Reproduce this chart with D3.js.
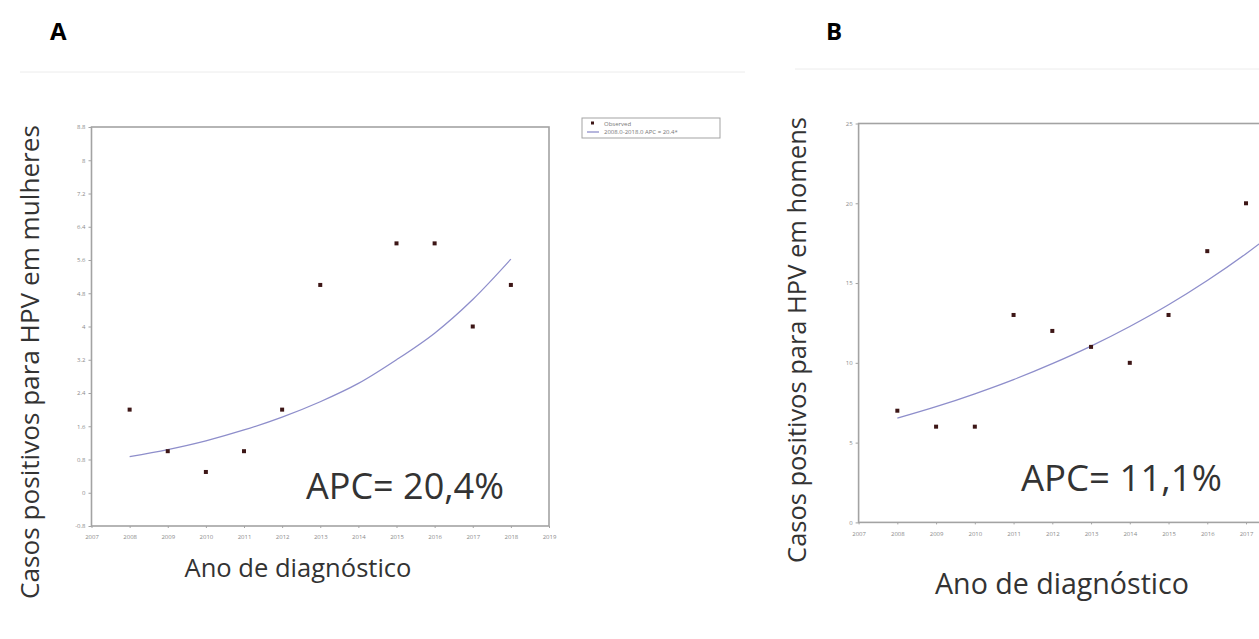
<!DOCTYPE html>
<html>
<head>
<meta charset="utf-8">
<script src="https://cdn.jsdelivr.net/npm/d3@7"></script>
<style>
  body { margin: 0; background: #fff; }
  svg { display: block; }
</style>
</head>
<body>
<div id="chart"></div>
<script>
// Panel A - mulheres
const yearsA = [2008, 2009, 2010, 2011, 2012, 2013, 2015, 2016, 2017, 2018];
const casesA = [2, 1, 0.5, 1, 2, 5, 6, 6, 4, 5];
const fitYearsA = [2008, 2009, 2010, 2011, 2012, 2013, 2014, 2015, 2016, 2017, 2018];
const fitA = [0.87, 1.04, 1.25, 1.51, 1.82, 2.19, 2.63, 3.2, 3.84, 4.65, 5.62];
const yTicksA = [-0.8, 0, 0.8, 1.6, 2.4, 3.2, 4, 4.8, 5.6, 6.4, 7.2, 8, 8.8];

// Panel B - homens
const yearsB = [2008, 2009, 2010, 2011, 2012, 2013, 2014, 2015, 2016, 2017];
const casesB = [7, 6, 6, 13, 12, 11, 10, 13, 17, 20];
const fitYearsB = [2008, 2009, 2010, 2011, 2012, 2013, 2014, 2015, 2016, 2017, 2018];
const fitB = [6.53, 7.25, 8.06, 8.95, 9.95, 11.05, 12.28, 13.64, 15.16, 16.84, 18.7];
const yTicksB = [0, 5, 10, 15, 20, 25];

const xTicks = [2007, 2008, 2009, 2010, 2011, 2012, 2013, 2014, 2015, 2016, 2017, 2018, 2019];

const W = 1259, H = 639;
const svg = d3.select("#chart")
    .append("svg")
    .attr("width", W)
    .attr("height", H);

const lineColor = "#8e8ecb";
const dotColor = "#3d1616";
const axisColor = "#a3a3a3";
const font = "'Open Sans', sans-serif";

// shrink/grow a text so it spans the wanted width
function fitText(sel, width) {
    const fs = +sel.attr("font-size");
    const w = sel.node().getComputedTextLength();
    sel.attr("font-size", fs * width / w);
    return sel;
}

function drawPanel(p) {
    const x = d3.scaleLinear().domain([2007, 2019]).range([p.left, p.right]);
    const y = d3.scaleLinear().domain(p.yDomain).range([p.bottom, p.top]);

    // faint scan line over the plot
    svg.append("line")
        .attr("x1", p.scanX[0]).attr("x2", p.scanX[1])
        .attr("y1", p.scanY).attr("y2", p.scanY)
        .attr("stroke", "#ececec").attr("stroke-width", 1);

    // plot box
    svg.append("rect")
        .attr("x", p.left).attr("y", p.top)
        .attr("width", p.right - p.left).attr("height", p.bottom - p.top)
        .attr("fill", "none").attr("stroke", axisColor).attr("stroke-width", 1.6);

    const yAxis = d3.axisLeft(y).tickValues(p.yTicks).tickSize(3).tickFormat(d => String(d));
    const gy = svg.append("g")
        .attr("transform", `translate(${p.left},0)`)
        .call(yAxis);
    const xAxis = d3.axisBottom(x)
        .tickValues(xTicks.filter(d => x(d) + 8 < W))
        .tickSize(2).tickFormat(d => String(d));
    const gx = svg.append("g")
        .attr("transform", `translate(0,${p.bottom})`)
        .call(xAxis);
    [gx, gy].forEach(g => {
        g.select(".domain").remove();
        g.selectAll(".tick line").attr("stroke", axisColor);
        g.selectAll(".tick text").attr("fill", "#8a8a8a").attr("font-size", 6).attr("font-family", font);
    });
    gx.selectAll(".tick text").attr("dy", "1.4em");

    // fitted curve
    const line = d3.line()
        .x((d, i) => x(p.fitYears[i]))
        .y(d => y(d))
        .curve(d3.curveCatmullRom);
    svg.append("path")
        .datum(p.fit)
        .attr("d", line)
        .attr("fill", "none")
        .attr("stroke", lineColor)
        .attr("stroke-width", 1.3);

    // observed points
    svg.append("g").selectAll("rect")
        .data(p.cases)
        .join("rect")
        .attr("x", (d, i) => x(p.years[i]) - 2)
        .attr("y", d => y(d) - 2)
        .attr("width", 4).attr("height", 4)
        .attr("fill", dotColor);

    // panel letter
    svg.append("text")
        .attr("x", p.letterX).attr("y", 40)
        .attr("font-family", font)
        .attr("font-weight", "bold")
        .attr("font-size", 24)
        .text(p.letter);

    // y label
    fitText(svg.append("text")
        .attr("transform", `translate(${p.yLabelX},${p.yLabelY}) rotate(-90)`)
        .attr("text-anchor", "middle")
        .attr("font-family", font)
        .attr("font-size", 22)
        .attr("fill", "#333")
        .text(p.yLabel), p.yLabelW);

    // x label
    fitText(svg.append("text")
        .attr("x", p.xLabelX).attr("y", p.xLabelY)
        .attr("text-anchor", "middle")
        .attr("font-family", font)
        .attr("font-size", 22)
        .attr("fill", "#333")
        .text("Ano de diagnóstico"), p.xLabelW);

    // APC annotation
    fitText(svg.append("text")
        .attr("x", p.apcX).attr("y", p.apcY)
        .attr("font-family", font)
        .attr("font-size", 34)
        .attr("fill", "#333")
        .text(p.apc), p.apcW);
}

drawPanel({
    letter: "A", letterX: 50,
    left: 91.5, right: 549, top: 127, bottom: 526,
    yDomain: [-0.8, 8.8], yTicks: yTicksA,
    years: yearsA, cases: casesA, fitYears: fitYearsA, fit: fitA,
    yLabel: "Casos positivos para HPV em mulheres", yLabelX: 39, yLabelY: 362, yLabelW: 474,
    xLabelX: 298, xLabelY: 577, xLabelW: 227,
    apc: "APC= 20,4%", apcX: 306, apcY: 499, apcW: 198,
    scanX: [20, 745], scanY: 72
});

drawPanel({
    letter: "B", letterX: 826,
    left: 858.6, right: 1323.5, top: 123.5, bottom: 522.4,
    yDomain: [0, 25], yTicks: yTicksB,
    years: yearsB, cases: casesB, fitYears: fitYearsB, fit: fitB,
    yLabel: "Casos positivos para HPV em homens", yLabelX: 806, yLabelY: 340, yLabelW: 446,
    xLabelX: 1062, xLabelY: 594, xLabelW: 254,
    apc: "APC= 11,1%", apcX: 1021, apcY: 491, apcW: 201,
    scanX: [795, 1259], scanY: 69
});

// legend of panel A
const legend = svg.append("g").attr("transform", "translate(582,118)");
legend.append("rect")
    .attr("width", 138).attr("height", 20)
    .attr("fill", "#fff").attr("stroke", axisColor).attr("stroke-width", 1);
legend.append("rect").attr("x", 9).attr("y", 3.5).attr("width", 3).attr("height", 3).attr("fill", dotColor);
legend.append("line").attr("x1", 5).attr("x2", 17).attr("y1", 14).attr("y2", 14)
    .attr("stroke", lineColor).attr("stroke-width", 1.3);
legend.append("text").attr("x", 22).attr("y", 7.5).attr("font-size", 6).attr("font-family", font)
    .attr("fill", "#777").text("Observed");
legend.append("text").attr("x", 22).attr("y", 16).attr("font-size", 6).attr("font-family", font)
    .attr("fill", "#777").text("2008.0-2018.0 APC = 20.4*");
</script>
</body>
</html>
